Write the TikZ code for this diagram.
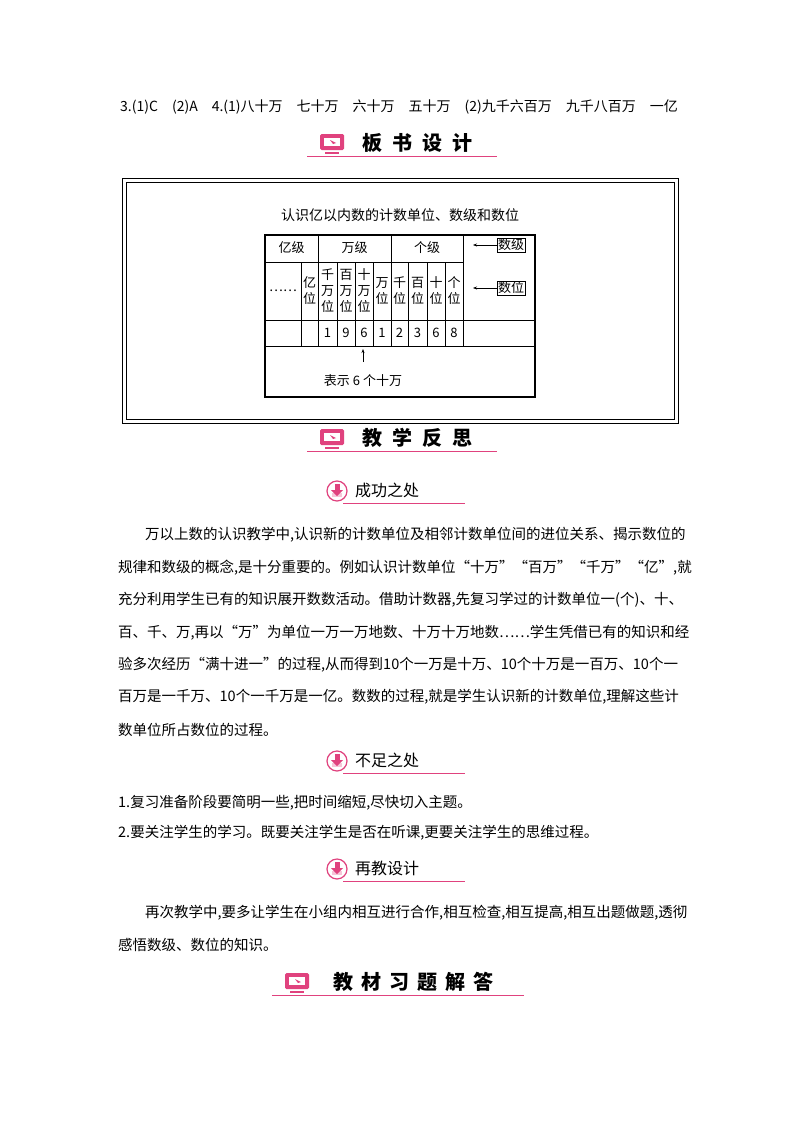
\documentclass[tikz,border=0pt]{standalone}
\usepackage{fontspec}
\setmainfont{Noto Sans CJK SC}
\usetikzlibrary{arrows.meta}
\definecolor{pk}{HTML}{E0427E}
\tikzset{
 body/.style={anchor=west,inner sep=0pt,font=\fontsize{14.5pt}{16pt}\selectfont},
 tb/.style={inner sep=0pt,font=\fontsize{13pt}{14pt}\selectfont},
 hd/.style={anchor=west,inner sep=0pt,font=\fontsize{20pt}{22pt}\selectfont},
 sh/.style={anchor=west,inner sep=0pt,font=\fontsize{16pt}{18pt}\selectfont},
 gl/.style={line width=0.6pt},
}
\newcommand{\monicon}[2]{%
 \fill[pk,rounded corners=1.5pt] (#1-12,#2-9) rectangle (#1+12,#2+7);
 \fill[white] (#1-8,#2-5) rectangle (#1+8,#2+3);
 \fill[pk] (#1-2,#2-3) -- (#1+4,#2) -- (#1+1,#2+1) -- cycle;
 \fill[pk] (#1-7,#2+9) rectangle (#1+7,#2+11);}
\newcommand{\circicon}[2]{%
 \draw[pk,line width=1.2pt] (#1,#2) circle (10);
 \fill[pk!30] (#1-5,#2+2) rectangle (#1+5,#2+6);
 \fill[pk] (#1-2.5,#2-7) rectangle (#1+2.5,#2-1);
 \fill[pk] (#1-6,#2-1) -- (#1+6,#2-1) -- (#1,#2+5) -- cycle;}
\begin{document}
\begin{tikzpicture}[x=1pt,y=-1pt]
\useasboundingbox[fill=white] (0,0) rectangle (800,1132);
\node[body,font=\fontsize{14pt}{16pt}\selectfont] (top) at (120,107) {3.(1)C\quad{}(2)A\quad{}4.(1)八十万\quad{}七十万\quad{}六十万\quad{}五十万\quad{}(2)九千六百万\quad{}九千八百万\quad{}一亿};
% header 1
\monicon{332}{143}
\node[hd] (h1) at (362,143) {\bfseries 板\hspace{0.5em}书\hspace{0.5em}设\hspace{0.5em}计};
\draw[pk,line width=0.8pt] (307,156) -- (497,156);
% frame
\draw[line width=0.8pt] (122,178) rectangle (678,423);
\draw[line width=0.8pt] (126,182) rectangle (674,419);
\node[tb,font=\fontsize{14pt}{15pt}\selectfont] (ttl) at (400,215) {认识亿以内数的计数单位、数级和数位};
% table
\draw[line width=1.1pt] (265,235) rectangle (535,397);
\draw[gl] (265,262) -- (463,262);
\draw[gl] (265,320) -- (535,320);
\draw[gl] (265,346) -- (535,346);
\draw[gl] (463,235) -- (463,346);
\draw[gl] (318,235) -- (318,346);
\draw[gl] (391,235) -- (391,346);
\foreach \x in {301,337,355,373,408,427,445} \draw[gl] (\x,262) -- (\x,346);
\node[tb] (yj) at (291.5,248) {亿级};
\node[tb] (wj) at (354.5,248) {万级};
\node[tb] (gj) at (427,248) {个级};
\node[tb] (dots) at (283,291) {……};
\tikzset{vc/.style={tb,align=center,font=\fontsize{13pt}{16pt}\selectfont}}
\node[vc] (c1) at (309.5,291) {亿\\位};
\node[vc] (c2) at (327.5,291) {千\\万\\位};
\node[vc] (c3) at (346,291) {百\\万\\位};
\node[vc] (c4) at (364,291) {十\\万\\位};
\node[vc] (c5) at (382,291) {万\\位};
\node[vc] (c6) at (399.5,291) {千\\位};
\node[vc] (c7) at (417.5,291) {百\\位};
\node[vc] (c8) at (436,291) {十\\位};
\node[vc] (c9) at (454,291) {个\\位};
\foreach \x/\d [count=\i] in {327.5/1,346/9,364/6,382/1,399.5/2,417.5/3,436/6,454/8}
  \node[tb] (n\i) at (\x,333) {\d};
\node[tb,draw,inner sep=1pt] (sj) at (511,245) {数级};
\node[tb,draw,inner sep=1pt] (sw) at (511,288) {数位};
\draw[-{Stealth[length=4pt]},gl] (sj.west) -- (473,245);
\draw[-{Stealth[length=4pt]},gl] (sw.west) -- (473,288);
\node[tb] (bs) at (363,381) {表示 6 个十万};
\draw[-{Stealth[length=4pt]},gl] (363,362) -- (363,349);
% header 2
\monicon{332}{438}
\node[hd] (h2) at (362,438) {\bfseries 教\hspace{0.5em}学\hspace{0.5em}反\hspace{0.5em}思};
\draw[pk,line width=0.8pt] (307,451) -- (497,451);
% sub 1
\circicon{337}{491}
\node[sh] (s1) at (355,490) {成功之处};
\draw[pk,line width=0.8pt] (343,503) -- (465,503);
\node[body] (p1) at (145,535) {万以上数的认识教学中,认识新的计数单位及相邻计数单位间的进位关系、揭示数位的};
\node[body] (p2) at (118,568) {规律和数级的概念,是十分重要的。例如认识计数单位“十万”“百万”“千万”“亿”,就};
\node[body] (p3) at (118,600) {充分利用学生已有的知识展开数数活动。借助计数器,先复习学过的计数单位一(个)、十、};
\node[body] (p4) at (118,633) {百、千、万,再以“万”为单位一万一万地数、十万十万地数……学生凭借已有的知识和经};
\node[body] (p5) at (118,665) {验多次经历“满十进一”的过程,从而得到10个一万是十万、10个十万是一百万、10个一};
\node[body] (p6) at (118,697) {百万是一千万、10个一千万是一亿。数数的过程,就是学生认识新的计数单位,理解这些计};
\node[body] (p7) at (118,730) {数单位所占数位的过程。};
% sub 2
\circicon{337}{761}
\node[sh] (s2) at (355,760) {不足之处};
\draw[pk,line width=0.8pt] (343,773) -- (465,773);
\node[body] (q1) at (118,803) {1.复习准备阶段要简明一些,把时间缩短,尽快切入主题。};
\node[body] (q2) at (118,833) {2.要关注学生的学习。既要关注学生是否在听课,更要关注学生的思维过程。};
% sub 3
\circicon{337}{869}
\node[sh] (s3) at (355,868) {再教设计};
\draw[pk,line width=0.8pt] (343,881) -- (465,881);
\node[body] (r1) at (145,913) {再次教学中,要多让学生在小组内相互进行合作,相互检查,相互提高,相互出题做题,透彻};
\node[body] (r2) at (118,945) {感悟数级、数位的知识。};
% header 3
\monicon{297}{982}
\node[hd] (h3) at (333,982) {\bfseries 教\hspace{0.4em}材\hspace{0.4em}习\hspace{0.4em}题\hspace{0.4em}解\hspace{0.4em}答};
\draw[pk,line width=0.8pt] (272,995) -- (524,995);
\end{tikzpicture}
\end{document}
